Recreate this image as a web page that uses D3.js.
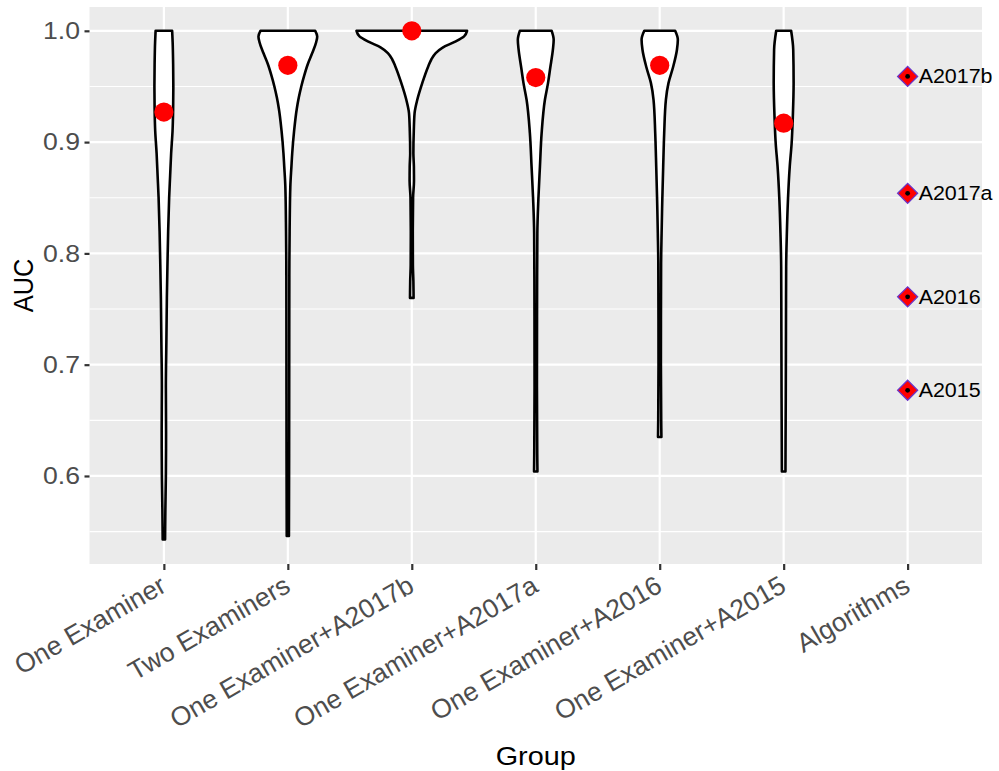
<!DOCTYPE html>
<html><head><meta charset="utf-8">
<script src="https://cdn.jsdelivr.net/npm/d3@7"></script>
<style>body{margin:0;background:#fff}text{font-family:"Liberation Sans",Arial,sans-serif}</style>
</head><body><svg id="c" width="999" height="771"></svg>
<script>
// ---- data ----
const categories = ["One Examiner","Two Examiners","One Examiner+A2017b","One Examiner+A2017a","One Examiner+A2016","One Examiner+A2015","Algorithms"];
const yTicks = [0.6, 0.7, 0.8, 0.9, 1.0];
const yMinor = [0.55, 0.65, 0.75, 0.85, 0.95];

// violin density profiles: [AUC, relative density]
const violinOneExaminer = [[0.543,1.2],[0.57,1.5],[0.60,2.0],[0.64,2.2],[0.68,2.0],[0.72,2.5],[0.76,3.0],[0.79,3.6],[0.82,4.3],[0.85,5.3],[0.87,6.3],[0.89,7.3],[0.91,8.7],[0.93,9.3],[0.95,9.5],[0.97,9.3],[0.99,8.8],[1.0,8.3]];
const violinTwoExaminers = [[0.546,1.1],[0.62,1.3],[0.70,1.4],[0.78,1.5],[0.82,1.8],[0.86,2.5],[0.878,3.6],[0.89,4.4],[0.91,6.3],[0.93,9],[0.94,11],[0.95,13.5],[0.96,16.5],[0.97,20],[0.98,24.5],[0.99,28.5],[0.995,29.5],[1.0,27.5]];
const violinA2017b = [[0.76,1.8],[0.775,1.6],[0.79,1.1],[0.82,1.0],[0.85,1.3],[0.865,2.2],[0.878,2.1],[0.89,1.6],[0.91,2.0],[0.926,2.8],[0.938,5.5],[0.953,10.5],[0.968,16.5],[0.974,19.5],[0.98,24],[0.985,31],[0.99,43],[0.995,52.5],[1.0,55.5]];
const violinA2017a = [[0.604,1.7],[0.62,1.5],[0.68,1.2],[0.75,1.3],[0.818,1.6],[0.848,2.6],[0.878,4.2],[0.908,5.9],[0.938,9.2],[0.953,12.3],[0.967,14.6],[0.983,17.2],[0.992,18],[1.0,16]];
const violinA2016 = [[0.635,1.7],[0.65,1.5],[0.70,1.2],[0.79,1.4],[0.818,1.9],[0.848,2.6],[0.878,3.5],[0.908,4.5],[0.938,6.2],[0.953,8.8],[0.967,13.3],[0.983,17.3],[0.992,18.2],[1.0,15.5]];
const violinA2015 = [[0.604,1.8],[0.63,1.9],[0.67,2.1],[0.73,2.3],[0.788,2.5],[0.818,3.2],[0.848,4.3],[0.878,6.1],[0.899,8.0],[0.923,9.2],[0.953,10],[0.983,9.6],[1.0,7.5]];
const violins = [violinOneExaminer, violinTwoExaminers, violinA2017b, violinA2017a, violinA2016, violinA2015];

const groupMeans = [0.927, 0.969, 1.0, 0.958, 0.969, 0.917];
const algoNames = ["A2017b","A2017a","A2016","A2015"];
const algoAUC = [0.959, 0.854, 0.761, 0.677];

// ---- layout ----
const SX = 1.1; // horizontal text stretch seen in the reference
const svg = d3.select("#c");
const P = {left:89.5, right:982, top:7, bottom:564};
const x = d3.scalePoint().domain(categories).range([P.left, P.right]).padding(0.6);
const y = d3.scaleLinear().domain([0.5209, 1.0214]).range([P.bottom, P.top]);
const w = d3.scaleLinear().domain([0, 56]).range([0, 0.45 * x.step()]);

svg.append("rect").attr("x",P.left).attr("y",P.top).attr("width",P.right-P.left).attr("height",P.bottom-P.top).attr("fill","#ebebeb");

const grid = svg.append("g");
grid.selectAll(".mn").data(yMinor).join("line")
  .attr("x1",P.left).attr("x2",P.right).attr("y1",d=>y(d)).attr("y2",d=>y(d))
  .attr("stroke","#fff").attr("stroke-width",1.1);
grid.selectAll(".mj").data(yTicks).join("line")
  .attr("x1",P.left).attr("x2",P.right).attr("y1",d=>y(d)).attr("y2",d=>y(d))
  .attr("stroke","#fff").attr("stroke-width",2.2);
grid.selectAll(".mx").data(categories).join("line")
  .attr("x1",d=>x(d)).attr("x2",d=>x(d)).attr("y1",P.top).attr("y2",P.bottom)
  .attr("stroke","#fff").attr("stroke-width",2.2);

// violins
violins.forEach((prof, i) => {
  const cx = x(categories[i]);
  const data = prof.slice().sort((a,b)=>b[0]-a[0]);
  const area = d3.area()
    .y(d=>y(d[0]))
    .x0(d=>cx - w(d[1]))
    .x1(d=>cx + w(d[1]))
    .curve(d3.curveMonotoneY);
  svg.append("path").attr("d", area(data))
    .attr("fill","#fff").attr("stroke","#000").attr("stroke-width",2.6).attr("stroke-linejoin","round");
});

// means
svg.selectAll(".mean").data(groupMeans).join("circle")
  .attr("cx",(d,i)=>x(categories[i])).attr("cy",d=>y(d)).attr("r",9.6).attr("fill","#ff0000");

// algorithms
const ax = x("Algorithms");
const diamond = d3.symbol().type(d3.symbolSquare).size(200)();
const ag = svg.selectAll(".algo").data(algoAUC).join("g")
  .attr("transform", d=>`translate(${ax},${y(d)})`);
ag.append("path").attr("d",diamond).attr("transform","rotate(45)")
  .attr("fill","#ff0000").attr("stroke","#6a35c8").attr("stroke-width",1.3);
ag.append("circle").attr("r",2.4).attr("fill","#000");
ag.append("text").text((d,i)=>algoNames[i]).attr("transform",`translate(11,0) scale(${SX},1)`).attr("dy","0.36em")
  .attr("font-size",19.5).attr("fill","#000");

// axes
const yAxis = svg.append("g").attr("transform",`translate(${P.left},0)`)
  .call(d3.axisLeft(y).tickValues(yTicks).tickFormat(d3.format(".1f")).tickSize(5).tickPadding(4));
yAxis.select(".domain").remove();
yAxis.selectAll("line").attr("stroke","#333").attr("stroke-width",2.2);
yAxis.selectAll("text").attr("font-size",24.2).attr("fill","#4d4d4d").attr("font-family","Liberation Sans, Arial, sans-serif")
  .attr("x",0).attr("transform",`translate(-9.5,0) scale(${SX},1)`);

const xAxis = svg.append("g").attr("transform",`translate(0,${P.bottom})`)
  .call(d3.axisBottom(x).tickSize(6).tickPadding(4));
xAxis.select(".domain").remove();
xAxis.selectAll("line").attr("stroke","#333").attr("stroke-width",2.2);
xAxis.selectAll("text").attr("font-size",26.5).attr("fill","#4d4d4d").attr("font-family","Liberation Sans, Arial, sans-serif")
  .attr("text-anchor","end").attr("x",0).attr("y",0).attr("dy","0.72em")
  .attr("transform",`translate(-6,10) rotate(-30)`);

svg.append("text").text("AUC").attr("transform",`translate(32.5,${(P.top+P.bottom)/2}) scale(${SX},1) rotate(-90)`)
  .attr("text-anchor","middle").attr("font-size",25.4).attr("fill","#000");
svg.append("text").text("Group").attr("transform",`translate(${(P.left+P.right)/2},765) scale(${SX},1)`)
  .attr("text-anchor","middle").attr("font-size",26.2).attr("fill","#000");
</script></body></html>
